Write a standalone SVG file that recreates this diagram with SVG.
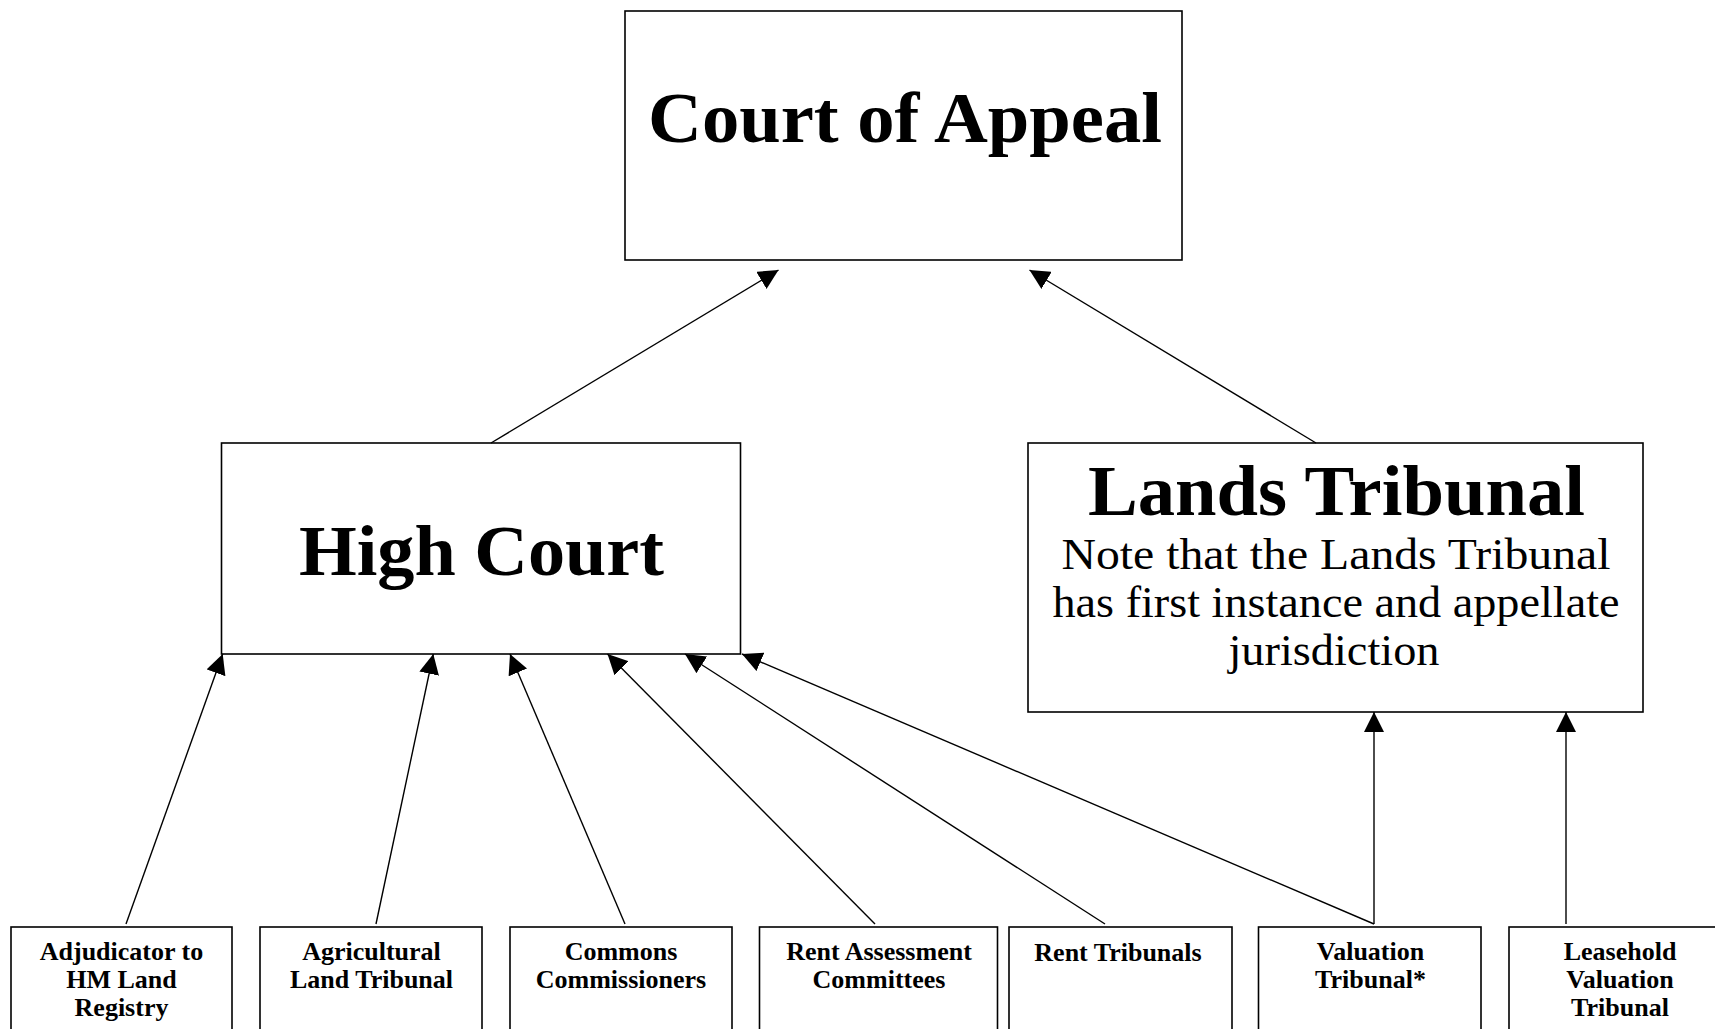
<svg xmlns="http://www.w3.org/2000/svg" width="1715" height="1029" viewBox="0 0 1715 1029">
<style>
.box{fill:#fff;stroke:#000;stroke-width:1.6}
.big{font-family:"Liberation Serif","Times New Roman",serif;font-weight:bold;font-size:71px;text-anchor:middle;fill:#000}
.note{font-family:"Liberation Serif","Times New Roman",serif;font-size:44px;text-anchor:middle;fill:#000}
.small{font-family:"Liberation Serif","Times New Roman",serif;font-weight:bold;font-size:26px;text-anchor:middle;fill:#000}
.conn line{stroke:#000;stroke-width:1.4;fill:none;marker-end:url(#arrow)}
</style>
<defs>
<marker id="arrow" markerUnits="userSpaceOnUse" markerWidth="20" markerHeight="20" refX="20" refY="10" orient="auto" viewBox="0 0 20 20">
<path d="M0,0 L20,10 L0,20 z" fill="#000"/>
</marker>
</defs>
<rect width="1715" height="1029" fill="#fff"/>

<g id="court-of-appeal">
<rect class="box" x="625" y="11" width="557" height="249"/>
<text class="big" x="905" y="142" textLength="514" lengthAdjust="spacingAndGlyphs">Court of Appeal</text>
</g>

<g id="high-court">
<rect class="box" x="221.5" y="443" width="519" height="211"/>
<text class="big" x="481.5" y="575" textLength="365" lengthAdjust="spacingAndGlyphs">High Court</text>
</g>

<g id="lands-tribunal">
<rect class="box" x="1028" y="443" width="615" height="269"/>
<text class="big" x="1336.5" y="515" textLength="497" lengthAdjust="spacingAndGlyphs">Lands Tribunal</text>
<text class="note" x="1336" y="569" textLength="549" lengthAdjust="spacingAndGlyphs">Note that the Lands Tribunal</text>
<text class="note" x="1336" y="617" textLength="567" lengthAdjust="spacingAndGlyphs">has first instance and appellate</text>
<text class="note" x="1334" y="665" textLength="211" lengthAdjust="spacingAndGlyphs">jurisdiction</text>
</g>

<g id="adjudicator">
<rect class="box" x="11" y="927" width="221" height="130"/>
<text class="small" x="121.5" y="960">Adjudicator to</text>
<text class="small" x="121.5" y="988">HM Land</text>
<text class="small" x="121.5" y="1016">Registry</text>
</g>

<g id="agricultural">
<rect class="box" x="260" y="927" width="222" height="130"/>
<text class="small" x="371.5" y="960">Agricultural</text>
<text class="small" x="371.5" y="988">Land Tribunal</text>
</g>

<g id="commons">
<rect class="box" x="510" y="927" width="222" height="130"/>
<text class="small" x="621" y="960">Commons</text>
<text class="small" x="621" y="988">Commissioners</text>
</g>

<g id="rent-assessment">
<rect class="box" x="759.5" y="927" width="238" height="130"/>
<text class="small" x="879" y="960">Rent Assessment</text>
<text class="small" x="879" y="988">Committees</text>
</g>

<g id="rent-tribunals">
<rect class="box" x="1009" y="927" width="223" height="130"/>
<text class="small" x="1118" y="961">Rent Tribunals</text>
</g>

<g id="valuation">
<rect class="box" x="1258.5" y="927" width="222.5" height="130"/>
<text class="small" x="1370.5" y="960">Valuation</text>
<text class="small" x="1370.5" y="988">Tribunal*</text>
</g>

<g id="leasehold">
<rect class="box" x="1509" y="927" width="222" height="130"/>
<text class="small" x="1620" y="960">Leasehold</text>
<text class="small" x="1620" y="988">Valuation</text>
<text class="small" x="1620" y="1016">Tribunal</text>
</g>

<g id="connectors" class="conn">
<line x1="491" y1="443" x2="778.5" y2="270"/>
<line x1="1316" y1="443" x2="1029.5" y2="270"/>
<line x1="126" y1="924" x2="222.7" y2="654"/>
<line x1="376" y1="924" x2="433.3" y2="654"/>
<line x1="625" y1="924" x2="510" y2="654"/>
<line x1="875" y1="924" x2="607.5" y2="654"/>
<line x1="1105" y1="924" x2="685" y2="654"/>
<line x1="1374" y1="924" x2="742" y2="654"/>
<line x1="1374" y1="924" x2="1374" y2="712"/>
<line x1="1566" y1="924" x2="1566" y2="712"/>
</g>
</svg>
